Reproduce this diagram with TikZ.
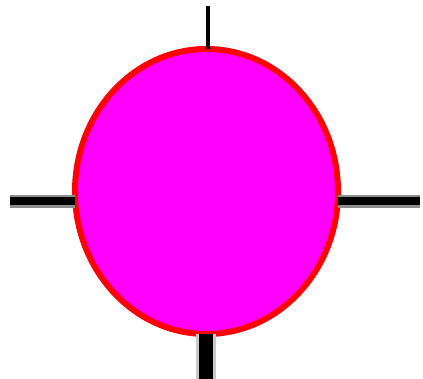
\documentclass[tikz,border=0pt]{standalone}
\usetikzlibrary{shapes.geometric}
\definecolor{fuchsia}{RGB}{255,0,255}
\definecolor{pure red}{RGB}{255,0,0}
\definecolor{halo}{RGB}{140,140,140}
\definecolor{pale halo}{RGB}{200,200,200}
\tikzstyle{blob} = [ellipse,draw=pure red,fill=fuchsia,line width=6,minimum width=263,minimum height=285,inner sep=0,outer sep=0]
\tikzstyle{wire} = [draw=halo,line width=2.5,double=black,double distance=8]
\tikzstyle{thinwire} = [draw=black,line width=4]
\tikzstyle{thickwire} = [draw=pale halo,line width=3,double=black,double distance=14]

\begin{document}
\begin{tikzpicture}[x=1pt,y=-1pt]
	\useasboundingbox (0,0) rectangle (423,379);
	\node[blob] (c) at (206.5,191.5) {};
	\coordinate (t) at (208,6);
	\coordinate (l) at (10,201.5);
	\coordinate (r) at (420,201.5);
	\coordinate (b) at (206,379);
	\draw[thinwire] (t) -- (t |- c.north);
	\draw[wire] (l) -- (l -| c.west);
	\draw[wire] (r) -- (r -| c.east);
	\draw[thickwire] (b) -- (b |- c.south);
\end{tikzpicture}
\end{document}
